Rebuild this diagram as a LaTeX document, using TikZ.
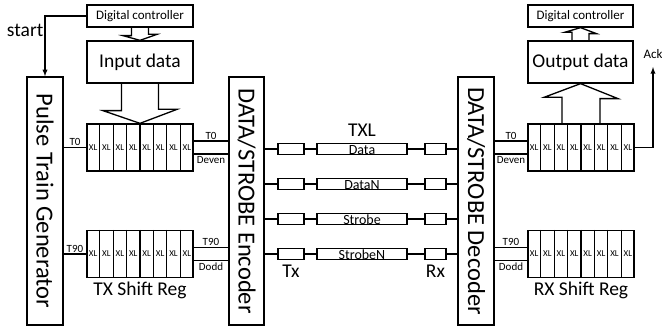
\documentclass[tikz,border=0pt]{standalone}
\usepackage{fontspec}
\setmainfont{Carlito}
\usetikzlibrary{arrows,positioning,calc}

\begin{document}
\begin{tikzpicture}[x=1pt,y=-1pt,>=latex,line width=1.3pt,
every node/.style={font=\fontsize{13}{15}\selectfont},
blk/.style={draw,minimum width=106pt,inner sep=0pt},
vbox/.style={draw,minimum width=36pt,minimum height=248pt,inner sep=0pt},
vtxt/.style={rotate=-90,font=\fontsize{24.5}{28}\selectfont},
reg/.style={draw,minimum width=106pt,minimum height=47pt,inner sep=0pt},
cell/.style={font=\fontsize{9}{10}\selectfont,inner sep=0pt},
sig/.style={font=\fontsize{11}{12}\selectfont,inner sep=1pt},
big/.style={font=\fontsize{19.5}{22}\selectfont},
ch/.style={draw,minimum height=11pt,inner sep=0pt,line width=1.2pt},
chtxt/.style={font=\fontsize{14}{16}\selectfont,inner sep=0pt,yshift=-1pt},
hollow/.style={draw,line join=miter}]
\useasboundingbox (0,0) rectangle (662,334);

% transmit side
\node[blk,minimum height=22pt] (ctrlL) at (140,16) {Digital controller};
\node[blk,minimum height=42pt,big] (inL) at (140,62) {Input data};
\node[vbox] (ptg) at (45,201) {};
\node[vtxt] (ptgT) at (ptg) {Pulse Train Generator};
\node[reg] (txA) at (140,147.5) {};
\node[reg] (txB) at (140,254) {};
\node[big,inner sep=0pt,below=3pt of txB] (ltxsr) {TX Shift Reg};
\node[vbox,minimum width=35pt] (enc) at (246.5,201) {};
\node[vtxt] (encT) at (enc) {DATA/STROBE Encoder};

% receive side
\node[vbox] (dec) at (476,201) {};
\node[vtxt] (decT) at (dec) {DATA/STROBE Decoder};
\node[reg] (rxA) at (581,147.5) {};
\node[reg] (rxB) at (581,254) {};
\node[big,inner sep=0pt,below=3pt of rxB] (lrxsr) {RX Shift Reg};
\node[blk,minimum height=42pt,minimum width=105pt,big] (outD) at (580.5,62) {Output data};
\node[blk,minimum height=22pt,minimum width=105pt] (ctrlR) at (580.5,16) {Digital controller};

% shift register cells
\foreach \sr in {txA,txB,rxA,rxB}{
  \foreach \k in {1,...,7}
    \draw ($(\sr.north west)!\k/8!(\sr.north east)$) -- ($(\sr.south west)!\k/8!(\sr.south east)$);
  \foreach \k in {0,...,7}
    \node[cell] (\sr x\k) at ($(\sr.west)!{(\k+0.5)/8}!(\sr.east)$) {XL};
}

% channels
\foreach \i/\y/\t in {1/149/Data,2/184/DataN,3/219/Strobe,4/254/StrobeN}{
  \node[ch,minimum width=26pt] (tx\i) at (291,\y) {};
  \node[ch,minimum width=90pt] (txl\i) at (362,\y) {};
  \node[chtxt] (txt\i) at (txl\i) {\t};
  \node[ch,minimum width=21pt] (rx\i) at (435.5,\y) {};
  \draw (enc.east |- tx\i) -- (tx\i) -- (txl\i) -- (rx\i) -- (dec.west |- rx\i);
}
\node[big,inner sep=0pt,above=5.5pt of txl1] (ltxl) {TXL};
\node[big,inner sep=0pt,below=4.5pt of tx4] (ltx) {Tx};
\node[big,inner sep=0pt,below=4.5pt of rx4] (lrx) {Rx};

% clocks and data lines
\draw (ptg.east |- txA.west) -- node[sig,above] (lT0) {T0} (txA.west);
\draw (ptg.east |- txB.west) -- node[sig,above] (lT90) {T90} (txB.west);
\draw ([yshift=6.5pt]txA.east) -- node[sig,above] (aT0) {T0} ([yshift=6.5pt]enc.west |- txA.east);
\draw ([yshift=-6.5pt]txA.east) -- node[sig,below,inner sep=2pt] (aDe) {Deven} ([yshift=-6.5pt]enc.west |- txA.east);
\draw ([yshift=6.5pt]txB.east) -- node[sig,above] (aT90) {T90} ([yshift=6.5pt]enc.west |- txB.east);
\draw ([yshift=-6.5pt]txB.east) -- node[sig,below,inner sep=2pt] (aDo) {Dodd} ([yshift=-6.5pt]enc.west |- txB.east);
\draw ([yshift=6.5pt]dec.east |- rxA.west) -- node[sig,above] (bT0) {T0} ([yshift=6.5pt]rxA.west);
\draw ([yshift=-6.5pt]dec.east |- rxA.west) -- node[sig,below,inner sep=2pt] (bDe) {Deven} ([yshift=-6.5pt]rxA.west);
\draw ([yshift=6.5pt]dec.east |- rxB.west) -- node[sig,above] (bT90) {T90} ([yshift=6.5pt]rxB.west);
\draw ([yshift=-6.5pt]dec.east |- rxB.west) -- node[sig,below,inner sep=2pt] (bDo) {Dodd} ([yshift=-6.5pt]rxB.west);

% start and ack
\draw[->] (ctrlL.west) -| (ptg.north);
\node[big,inner sep=0pt,anchor=base east] (lstart) at (44,36.5) {start};
\coordinate (ackTop) at (653,67);
\draw[->] (rxA.east) -| (ackTop);
\node[inner sep=0pt,anchor=base west] (lack) at (643,59) {Ack};

% block arrows
\draw[hollow] ([xshift=-8.5pt]ctrlL.south) -- ++(0,8) -- ++(-8.5,0) -- (inL.north) -- ++(17,-6) -- ++(-8.5,0) -- ++(0,-8);
\draw[hollow] ([xshift=-18.5pt]inL.south) -- ++(0,27) -- ++(-18.5,0) -- (txA.north) -- ++(37,-14) -- ++(-18.5,0) -- ++(0,-27);
\draw[hollow] ([xshift=-19pt]rxA.north) -- ++(0,-26) -- ++(-18,0) -- (outD.south) -- ++(37.5,15) -- ++(-18,0) -- ++(0,26);
\draw[hollow] ([xshift=-8.5pt]outD.north) -- ++(0,-8) -- ++(-7.5,0) -- (ctrlR.south) -- ++(16,6) -- ++(-7.5,0) -- ++(0,8);
\end{tikzpicture}
\end{document}
